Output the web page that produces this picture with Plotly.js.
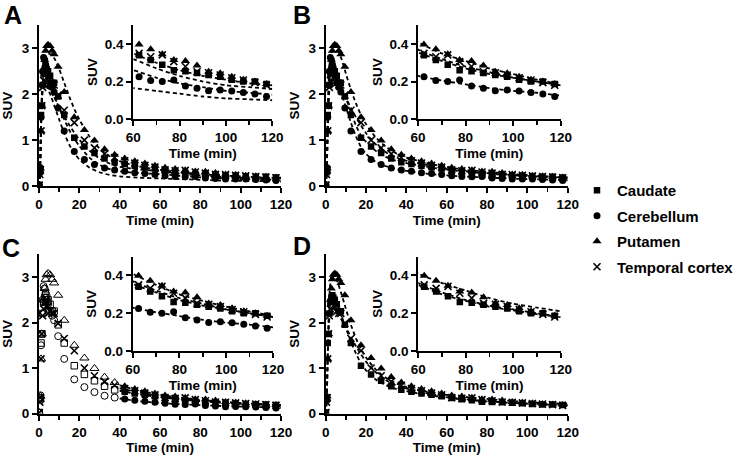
<!DOCTYPE html>
<html><head><meta charset="utf-8">
<script src="https://cdn.plot.ly/plotly-3.0.1.min.js"></script>
<style>html,body{margin:0;padding:0;background:#fff}#chart{width:740px;height:455px}</style>
</head><body><div id="chart"></div>
<script>
// ---------- data ----------
const regions = ['Caudate', 'Cerebellum', 'Putamen', 'Temporal cortex'];
const times = [0.1, 0.4, 0.7, 1.0, 1.4, 1.8, 2.3, 2.8, 3.3, 3.8, 4.5, 5.5, 6.5, 7.5, 9.5, 12.5, 17.5, 22.5, 27.5, 32.5, 37.5, 42.5, 47.5, 52.5, 57.5, 62.5, 67.5, 72.5, 77.5, 82.5, 87.5, 92.5, 97.5, 102.5, 107.5, 112.5, 117.5];
const caudate = [0.02, 0.30, 0.35, 1.55, 1.75, 2.20, 2.45, 2.55, 2.60, 2.55, 2.50, 2.40, 2.25, 2.25, 1.95, 1.55, 1.05, 0.86, 0.72, 0.60, 0.52, 0.48, 0.44, 0.41, 0.38, 0.34, 0.315, 0.29, 0.26, 0.255, 0.245, 0.235, 0.225, 0.21, 0.20, 0.20, 0.187];
const cerebellum = [0.02, 0.33, 0.40, 1.50, 1.75, 2.50, 2.80, 2.75, 2.65, 2.50, 2.40, 2.25, 2.15, 2.05, 1.70, 1.20, 0.75, 0.58, 0.47, 0.39, 0.35, 0.32, 0.29, 0.27, 0.25, 0.225, 0.205, 0.20, 0.208, 0.176, 0.164, 0.151, 0.155, 0.15, 0.142, 0.133, 0.12];
const putamen = [0.02, 0.30, 0.38, 1.20, 1.75, 2.20, 2.50, 2.75, 2.95, 3.05, 3.08, 3.05, 2.95, 2.87, 2.60, 2.05, 1.50, 1.22, 0.99, 0.80, 0.68, 0.60, 0.54, 0.49, 0.44, 0.398, 0.372, 0.345, 0.315, 0.31, 0.285, 0.252, 0.244, 0.226, 0.21, 0.20, 0.187];
const temporal = [0.02, 0.25, 0.35, 1.20, 1.75, 2.15, 2.30, 2.45, 2.50, 2.45, 2.35, 2.25, 2.20, 2.20, 1.98, 1.65, 1.38, 1.00, 0.83, 0.70, 0.62, 0.55, 0.50, 0.45, 0.41, 0.35, 0.332, 0.342, 0.306, 0.28, 0.252, 0.247, 0.235, 0.22, 0.208, 0.194, 0.18];

// model fits (dashed lines)
const fitTimes = [0, 0.5, 1, 1.5, 2, 2.5, 3, 4, 5, 6, 8, 10, 12.5, 15, 17.5, 20, 25, 30, 35, 40, 50, 60, 70, 80, 90, 100, 110, 120];
const fitA_caudate = [0, 0.3, 1.3, 2.0, 2.25, 2.3, 2.3, 2.25, 2.18, 2.1, 1.9, 1.7, 1.45, 1.22, 1.03, 0.87, 0.62, 0.46, 0.37, 0.32, 0.28, 0.26, 0.22, 0.19, 0.17, 0.15, 0.14, 0.13];
const fitA_cerebellum = [0, 0.35, 1.4, 2.1, 2.3, 2.3, 2.25, 2.15, 2.05, 1.95, 1.7, 1.45, 1.15, 0.9, 0.72, 0.58, 0.4, 0.3, 0.24, 0.21, 0.18, 0.165, 0.15, 0.135, 0.12, 0.11, 0.105, 0.1];
const fitA_putamen = [0, 0.3, 1.2, 1.9, 2.35, 2.6, 2.75, 2.85, 2.88, 2.87, 2.75, 2.55, 2.25, 1.95, 1.68, 1.45, 1.08, 0.82, 0.65, 0.54, 0.42, 0.35, 0.30, 0.26, 0.23, 0.21, 0.19, 0.18];
const fitA_temporal = [0, 0.3, 1.3, 1.9, 2.15, 2.2, 2.2, 2.18, 2.12, 2.05, 1.9, 1.73, 1.52, 1.33, 1.16, 1.01, 0.77, 0.6, 0.49, 0.42, 0.36, 0.32, 0.27, 0.23, 0.2, 0.18, 0.17, 0.16];

const fitB_caudate = [0, 0.3, 1.3, 2.0, 2.35, 2.5, 2.55, 2.55, 2.48, 2.38, 2.15, 1.92, 1.62, 1.32, 1.1, 0.96, 0.76, 0.63, 0.55, 0.5, 0.42, 0.355, 0.31, 0.27, 0.24, 0.22, 0.2, 0.18];
const fitB_cerebellum = [0, 0.35, 1.5, 2.3, 2.7, 2.78, 2.75, 2.6, 2.45, 2.3, 2.0, 1.72, 1.38, 1.08, 0.85, 0.7, 0.52, 0.43, 0.37, 0.33, 0.27, 0.23, 0.205, 0.185, 0.165, 0.15, 0.14, 0.125];
const fitB_putamen = [0, 0.3, 1.3, 2.1, 2.55, 2.8, 2.95, 3.05, 3.05, 2.98, 2.75, 2.45, 2.1, 1.8, 1.55, 1.35, 1.05, 0.85, 0.71, 0.62, 0.5, 0.41, 0.35, 0.31, 0.27, 0.24, 0.21, 0.185];
const fitB_temporal = [0, 0.3, 1.25, 1.9, 2.15, 2.25, 2.3, 2.3, 2.25, 2.2, 2.07, 1.92, 1.7, 1.5, 1.32, 1.15, 0.9, 0.73, 0.62, 0.55, 0.46, 0.37, 0.32, 0.28, 0.25, 0.22, 0.2, 0.18];

const fitTimesC = [40, 50, 60, 70, 80, 90, 100, 110, 120];
const fitC_caudate = [0.5, 0.42, 0.355, 0.31, 0.27, 0.24, 0.22, 0.2, 0.18];
const fitC_cerebellum = [0.33, 0.27, 0.23, 0.205, 0.185, 0.165, 0.15, 0.14, 0.125];
const fitC_putamen = [0.62, 0.5, 0.41, 0.35, 0.3, 0.265, 0.235, 0.21, 0.185];
const fitC_temporal = [0.55, 0.46, 0.37, 0.32, 0.28, 0.25, 0.22, 0.2, 0.18];

const fitD_caudate = [0, 0.3, 1.3, 2.0, 2.35, 2.5, 2.55, 2.55, 2.48, 2.38, 2.13, 1.88, 1.58, 1.32, 1.1, 0.95, 0.74, 0.62, 0.54, 0.49, 0.41, 0.35, 0.3, 0.265, 0.235, 0.215, 0.195, 0.18];
const fitD_putamen = [0, 0.3, 1.3, 2.2, 2.7, 2.95, 3.05, 3.08, 3.0, 2.88, 2.6, 2.3, 1.95, 1.65, 1.42, 1.23, 0.96, 0.78, 0.66, 0.58, 0.48, 0.41, 0.36, 0.32, 0.28, 0.25, 0.23, 0.21];
const fitD_temporal = [0, 0.3, 1.25, 1.9, 2.15, 2.25, 2.3, 2.3, 2.25, 2.2, 2.05, 1.9, 1.68, 1.48, 1.3, 1.14, 0.9, 0.73, 0.62, 0.55, 0.45, 0.36, 0.31, 0.27, 0.24, 0.22, 0.2, 0.18];

const panelLabels = ['A', 'B', 'C', 'D'];
const xTitle = 'Time (min)';
const yTitle = 'SUV';

// ---------- drawing ----------
const FONT = 'Liberation Sans, Arial, Helvetica, sans-serif';
const W = 740, H = 455;
const fx = p => p / W, fy = p => 1 - p / H;
const symbols = ['square', 'circle', 'triangle-up', 'x-thin'];
const sizes = [6.5, 7, 8, 7];
const series = [caudate, cerebellum, putamen, temporal];

function markerStyle(i, open) {
  if (i === 3) return {symbol: 'x-thin', size: sizes[i], color: 'black', line: {color: 'black', width: 1.6}};
  if (open) return {symbol: symbols[i] + '-open', size: sizes[i], color: 'black', line: {color: 'black', width: 1}};
  return {symbol: symbols[i], size: sizes[i], color: 'black', line: {width: 0}};
}

const traces = [];
function addPoints(xa, ya, idx, filterFn, open, legend) {
  const xs = [], ys = [];
  times.forEach((t, k) => { if (filterFn(t)) { xs.push(t); ys.push(series[idx][k]); } });
  traces.push({x: xs, y: ys, mode: 'markers', type: 'scatter', xaxis: xa, yaxis: ya,
    marker: markerStyle(idx, open), name: regions[idx], showlegend: !!legend, legendgroup: regions[idx],
    cliponaxis: true, hoverinfo: 'skip'});
}
function addFit(xa, ya, tx, ty) {
  traces.push({x: tx, y: ty, mode: 'lines', type: 'scatter', xaxis: xa, yaxis: ya,
    line: {color: 'black', width: 1.8, dash: '4px,3px', shape: 'spline', smoothing: 0.6},
    showlegend: false, hoverinfo: 'skip'});
}
const all = () => true, late = t => t >= 60;

// Panel A
const fitsA = [fitA_caudate, fitA_cerebellum, fitA_putamen, fitA_temporal];
fitsA.forEach(f => { addFit('x', 'y', fitTimes, f); addFit('x2', 'y2', fitTimes, f); });
[0, 1, 2, 3].forEach(i => { addPoints('x', 'y', i, all, false, true); addPoints('x2', 'y2', i, late, false); });
// Panel B
const fitsB = [fitB_caudate, fitB_cerebellum, fitB_putamen, fitB_temporal];
fitsB.forEach(f => { addFit('x3', 'y3', fitTimes, f); addFit('x4', 'y4', fitTimes, f); });
[0, 1, 2, 3].forEach(i => { addPoints('x3', 'y3', i, all, false); addPoints('x4', 'y4', i, late, false); });
// Panel C
const fitsC = [fitC_caudate, fitC_cerebellum, fitC_putamen, fitC_temporal];
fitsC.forEach(f => { addFit('x5', 'y5', fitTimesC, f); addFit('x6', 'y6', fitTimesC, f); });
[0, 1, 2, 3].forEach(i => {
  addPoints('x5', 'y5', i, t => t < 40, true);
  addPoints('x5', 'y5', i, t => t >= 40, false);
  addPoints('x6', 'y6', i, late, false);
});
// Panel D (no cerebellum)
const fitsD = [fitD_caudate, fitD_putamen, fitD_temporal];
fitsD.forEach(f => { addFit('x7', 'y7', fitTimes, f); addFit('x8', 'y8', fitTimes, f); });
[0, 2, 3].forEach(i => { addPoints('x7', 'y7', i, all, false); addPoints('x8', 'y8', i, late, false); });

const tickFont = {family: FONT, size: 13.5, color: 'black', weight: 'bold'};
const titleFont = {family: FONT, size: 13.5, color: 'black', weight: 'bold'};
const baseAxis = {showline: true, linecolor: 'black', linewidth: 2, ticks: 'outside', ticklen: 5, tickwidth: 2,
  tickcolor: 'black', showgrid: false, zeroline: false, tickfont: tickFont, fixedrange: true, automargin: false};

function xMain(l, r, anchor) {
  return Object.assign({}, baseAxis, {domain: [fx(l), fx(r)], anchor, range: [0, 120], tick0: 0, dtick: 20,
    minor: {dtick: 10, ticks: 'outside', ticklen: 4, tickwidth: 1.5, tickcolor: 'black', showgrid: false},
    title: {text: xTitle, font: titleFont, standoff: 4}});
}
function xIn(l, r, anchor) {
  return Object.assign({}, baseAxis, {domain: [fx(l), fx(r)], anchor, range: [60, 120], tick0: 60, dtick: 20,
    minor: {dtick: 10, ticks: 'outside', ticklen: 4, tickwidth: 1.5, tickcolor: 'black', showgrid: false},
    title: {text: xTitle, font: titleFont, standoff: 4}});
}
function yMain(top, bottom, anchor) {
  return Object.assign({}, baseAxis, {domain: [fy(bottom), fy(top)], anchor, range: [0, 3.5], tick0: 0, dtick: 1,
    title: {text: yTitle, font: titleFont, standoff: 6}});
}
function yIn(top, bottom, anchor) {
  return Object.assign({}, baseAxis, {domain: [fy(bottom), fy(top)], anchor, range: [0, 0.5], tick0: 0, dtick: 0.2,
    tickformat: '.1f', title: {text: yTitle, font: titleFont, standoff: 4}});
}

const layout = {
  width: W, height: H, margin: {l: 0, r: 0, t: 0, b: 0}, paper_bgcolor: 'white', plot_bgcolor: 'rgba(0,0,0,0)',
  font: {family: FONT, color: 'black'},
  xaxis: xMain(39, 281, 'y'), yaxis: yMain(25.4, 186, 'x'),
  xaxis2: xIn(133.3, 272.3, 'y2'), yaxis2: yIn(25.3, 119, 'x2'),
  xaxis3: xMain(325.7, 567.7, 'y3'), yaxis3: yMain(25.4, 186, 'x3'),
  xaxis4: xIn(418, 560.7, 'y4'), yaxis4: yIn(25.3, 119, 'x4'),
  xaxis5: xMain(39, 281, 'y5'), yaxis5: yMain(254.3, 413.5, 'x5'),
  xaxis6: xIn(132.7, 273, 'y6'), yaxis6: yIn(256.6, 351, 'x6'),
  xaxis7: xMain(325.7, 567.7, 'y7'), yaxis7: yMain(254.3, 413.5, 'x7'),
  xaxis8: xIn(418.3, 560.7, 'y8'), yaxis8: yIn(256.6, 351, 'x8'),
  showlegend: true,
  legend: {x: fx(577), y: fy(174), xanchor: 'left', yanchor: 'top', bgcolor: 'rgba(0,0,0,0)',
    font: {family: FONT, size: 15, color: 'black', weight: 'bold'}, tracegroupgap: 3},
  annotations: [
    {text: panelLabels[0], x: fx(13), y: fy(15)},
    {text: panelLabels[1], x: fx(302), y: fy(15)},
    {text: panelLabels[2], x: fx(11), y: fy(248)},
    {text: panelLabels[3], x: fx(302), y: fy(246)}
  ].map(a => Object.assign(a, {xref: 'paper', yref: 'paper', showarrow: false, xanchor: 'center', yanchor: 'middle',
    font: {family: FONT, size: 25, color: 'black', weight: 'bold'}}))
};

Plotly.newPlot('chart', traces, layout, {staticPlot: true, displayModeBar: false});
</script></body></html>
